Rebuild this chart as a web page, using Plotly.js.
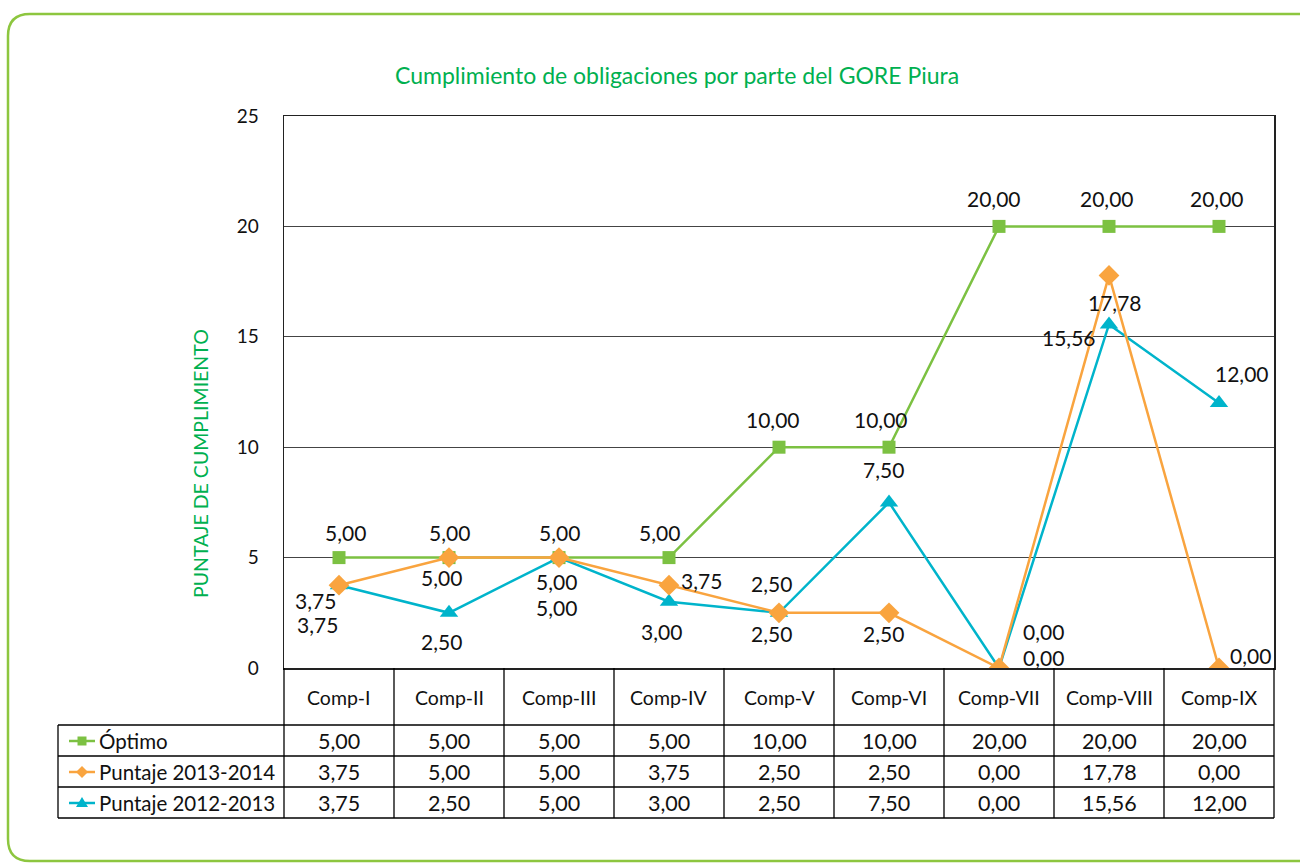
<!DOCTYPE html>
<html>
<head>
<meta charset="utf-8">
<script src="https://cdn.plot.ly/plotly-3.0.1.min.js"></script>
<style>html,body{margin:0;padding:0;background:#fff;}#chart{width:1300px;height:868px;}</style>
</head>
<body>
<div id="chart"></div>
<script>
// ---- data ----
const categories = ['Comp-I','Comp-II','Comp-III','Comp-IV','Comp-V','Comp-VI','Comp-VII','Comp-VIII','Comp-IX'];
const optimo = [5, 5, 5, 5, 10, 10, 20, 20, 20];
const puntaje1314 = [3.75, 5, 5, 3.75, 2.5, 2.5, 0, 17.78, 0];
const puntaje1213 = [3.75, 2.5, 5, 3, 2.5, 7.5, 0, 15.56, 12];
const seriesNames = ['Óptimo', 'Puntaje 2013-2014', 'Puntaje 2012-2013'];
const yTicks = [0, 5, 10, 15, 20, 25];
const chartTitle = 'Cumplimiento de obligaciones por parte del GORE Piura';
const yTitle = 'PUNTAJE DE CUMPLIMIENTO';

// ---- style ----
const W = 1300, H = 868;
const FONT = 'Lato, "Noto Sans", sans-serif';
const colors = ['#7cc142', '#f9a43f', '#00b4cb'];
const symbols = ['square', 'diamond', 'triangle-up'];
const msizes = [13, 16, 16];
const PL = 284, PR = 1274, PT = 116, PB = 668;
const rowY = [741, 772, 803];
const rowLines = [725, 756, 787, 818];
const TL = 58;
// label offsets [dx, dy] in pixels (dy positive = down)
const offOpt = [[6,-25],[0,-25],[0,-25],[-10,-25],[-6,-28],[-8,-28],[-5,-28],[-2,-28],[-2,-28]];
const off1314 = [[-24,15],[-8,20],[-3,24],[32,-5],[-8,-29],[-6,21],[44,-37],[6,27],[31,-13]];
const off1213 = [[-22,39],[-8,29],[-3,50],[-8,30],[-8,21],[-6,-33],[44,-11],[-40,13],[23,-30]];

const px = X => X / W;
const py = Y => 1 - Y / H;
const fmt = v => v.toFixed(2).replace('.', ',');
const xIdx = categories.map((c, i) => i);

const seriesData = [optimo, puntaje1314, puntaje1213];
const offsets = [offOpt, off1314, off1213];
const order = [0, 2, 1];

const traces = order.map(k => ({
  x: xIdx, y: seriesData[k], type: 'scatter', mode: 'lines+markers',
  name: seriesNames[k],
  line: {color: colors[k], width: 2.5},
  marker: {symbol: symbols[k], size: msizes[k], color: colors[k]},
  hoverinfo: 'skip'
}));

const annotations = [];
// title
annotations.push({xref:'paper', yref:'paper', x: px(677), y: py(75), text: chartTitle, showarrow:false,
  font:{family:FONT, size:23, color:'#00b050'}, xanchor:'center', yanchor:'middle'});
annotations.push({xref:'paper', yref:'paper', x: px(200), y: py(464), text: yTitle, showarrow:false,
  textangle:-90, font:{family:FONT, size:19.5, color:'#00b050'}, xanchor:'center', yanchor:'middle'});
// data labels
seriesData.forEach((arr, k) => {
  arr.forEach((v, i) => {
    annotations.push({xref:'x', yref:'y', x:i, y:v, text: fmt(v), showarrow:false,
      xshift: offsets[k][i][0], yshift: -offsets[k][i][1],
      font:{family:FONT, size:21, color:'#111'}, xanchor:'center', yanchor:'middle'});
  });
});
// table header
categories.forEach((c, i) => {
  annotations.push({xref:'x', yref:'paper', x:i, y:py(697), text:c, showarrow:false,
    font:{family:FONT, size:19.5, color:'#111'}, xanchor:'center', yanchor:'middle'});
});
// table values
seriesData.forEach((arr, k) => {
  annotations.push({xref:'paper', yref:'paper', x:px(97), y:py(rowY[k]), text:seriesNames[k], showarrow:false,
    font:{family:FONT, size:20.5, color:'#111'}, xanchor:'left', yanchor:'middle'});
  arr.forEach((v, i) => {
    annotations.push({xref:'x', yref:'paper', x:i, y:py(rowY[k]), text:fmt(v), showarrow:false,
      font:{family:FONT, size:21.5, color:'#111'}, xanchor:'center', yanchor:'middle'});
  });
});

const shapes = [];
const lineP = (x0,y0,x1,y1,color,width) => ({type:'line', xref:'paper', yref:'paper',
  x0:px(x0), y0:py(y0), x1:px(x1), y1:py(y1), line:{color:color, width:width}});
// outer rounded border
(function(){
  const l=8, t=14, r=1330, b=861, rad=22;
  const P = (X,Y) => px(X)+','+py(Y);
  const path = 'M '+P(l+rad,t)+' L '+P(r,t)+' L '+P(r,b)+' L '+P(l+rad,b)+
    ' Q '+P(l,b)+' '+P(l,b-rad)+' L '+P(l,t+rad)+' Q '+P(l,t)+' '+P(l+rad,t)+' Z';
  shapes.push({type:'path', xref:'paper', yref:'paper', path:path, line:{color:'#8dc63f', width:2.5}, layer:'below'});
})();
// table lines
rowLines.forEach(Y => shapes.push(lineP(TL, Y, PR, Y, '#000', 1.3)));
shapes.push(lineP(PL, PB, PL, 818, '#000', 1.3));
shapes.push(lineP(PR, PB, PR, 818, '#000', 1.3));
shapes.push(lineP(TL, 725, TL, 818, '#000', 1.3));
for (let i = 0; i < categories.length - 1; i++) {
  shapes.push({type:'line', xref:'x', yref:'paper', x0:i+0.5, x1:i+0.5, y0:py(PB), y1:py(818), line:{color:'#000', width:1.3}});
}
// legend keys in table
seriesData.forEach((arr, k) => {
  const cy = rowY[k], cx = 82;
  shapes.push(lineP(69, cy, 95, cy, colors[k], 2.5));
  const P = (X,Y) => px(X)+','+py(Y);
  let path;
  if (k === 0) path = 'M '+P(cx-4.5,cy-4.5)+' L '+P(cx+4.5,cy-4.5)+' L '+P(cx+4.5,cy+4.5)+' L '+P(cx-4.5,cy+4.5)+' Z';
  else if (k === 1) path = 'M '+P(cx,cy-6)+' L '+P(cx+6,cy)+' L '+P(cx,cy+6)+' L '+P(cx-6,cy)+' Z';
  else path = 'M '+P(cx,cy-6)+' L '+P(cx+6,cy+4)+' L '+P(cx-6,cy+4)+' Z';
  shapes.push({type:'path', xref:'paper', yref:'paper', path:path, fillcolor:colors[k], line:{color:colors[k], width:0}});
});

const layout = {
  width: W, height: H, autosize: false,
  margin: {l:0, r:0, t:0, b:0, pad:0},
  paper_bgcolor: '#fff', plot_bgcolor: '#fff',
  showlegend: false,
  font: {family: FONT, color: '#111'},
  xaxis: {domain:[px(PL), px(PR)], range:[-0.5, categories.length - 0.5], showticklabels:false,
    showgrid:false, zeroline:false, showline:true, mirror:true, linecolor:'#222', linewidth:1.5, ticks:'', fixedrange:true},
  yaxis: {domain:[py(PB), py(PT)], range:[0, 25], tickvals:yTicks, ticktext:yTicks.map(String),
    showgrid:true, gridcolor:'#444', gridwidth:1, zeroline:false, showline:true, mirror:true,
    linecolor:'#222', linewidth:1.5, ticks:'', ticklabelstandoff:20,
    tickfont:{family:FONT, size:19, color:'#111'}, fixedrange:true},
  shapes: shapes,
  annotations: annotations
};

Plotly.newPlot('chart', traces, layout, {displayModeBar:false, staticPlot:true});
</script>
</body>
</html>
